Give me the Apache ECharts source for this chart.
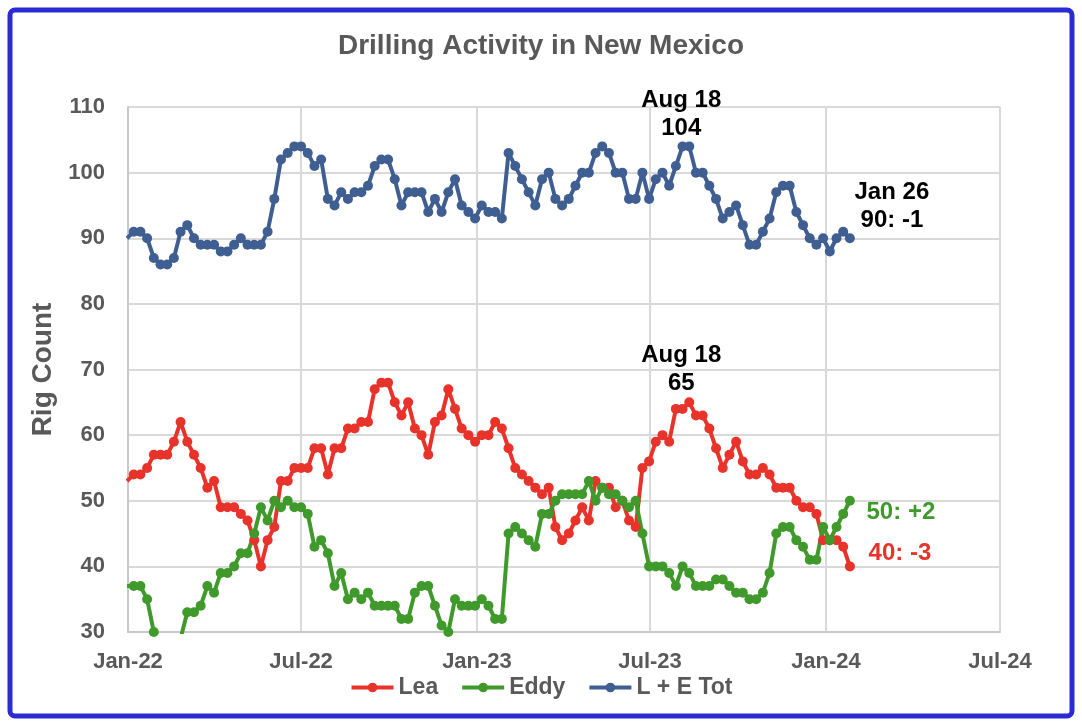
<!DOCTYPE html>
<html>
<head>
<meta charset="utf-8">
<script src="https://cdn.jsdelivr.net/npm/echarts@6/dist/echarts.min.js"></script>
<style>
html,body{margin:0;padding:0;background:#ffffff;}
#chart{width:1082px;height:728px;}
</style>
</head>
<body>
<div id="chart"></div>
<script>
// ---- Data (weekly rig counts) ----
const weeks = [
  '2021-12-31',
  '2022-01-07','2022-01-14','2022-01-21','2022-01-28','2022-02-04','2022-02-11','2022-02-18','2022-02-25',
  '2022-03-04','2022-03-11','2022-03-18','2022-03-25','2022-04-01','2022-04-08','2022-04-15','2022-04-22',
  '2022-04-29','2022-05-06','2022-05-13','2022-05-20','2022-05-27','2022-06-03','2022-06-10','2022-06-17',
  '2022-06-24','2022-07-01','2022-07-08','2022-07-15','2022-07-22','2022-07-29','2022-08-05','2022-08-12',
  '2022-08-19','2022-08-26','2022-09-02','2022-09-09','2022-09-16','2022-09-23','2022-09-30','2022-10-07',
  '2022-10-14','2022-10-21','2022-10-28','2022-11-04','2022-11-11','2022-11-18','2022-11-25','2022-12-02',
  '2022-12-09','2022-12-16','2022-12-23','2022-12-30',
  '2023-01-06','2023-01-13','2023-01-20','2023-01-27','2023-02-03','2023-02-10','2023-02-17','2023-02-24',
  '2023-03-03','2023-03-10','2023-03-17','2023-03-24','2023-03-31','2023-04-07','2023-04-14','2023-04-21',
  '2023-04-28','2023-05-05','2023-05-12','2023-05-19','2023-05-26','2023-06-02','2023-06-09','2023-06-16',
  '2023-06-23','2023-06-30','2023-07-07','2023-07-14','2023-07-21','2023-07-28','2023-08-04','2023-08-11',
  '2023-08-18','2023-08-25','2023-09-01','2023-09-08','2023-09-15','2023-09-22','2023-09-29','2023-10-06',
  '2023-10-13','2023-10-20','2023-10-27','2023-11-03','2023-11-10','2023-11-17','2023-11-24','2023-12-01',
  '2023-12-08','2023-12-15','2023-12-22','2023-12-29',
  '2024-01-05','2024-01-12','2024-01-19','2024-01-26'
];

const lea = [
  53,54,54,55,57,57,57,59,62,59, 57,55,52,53,49,49,49,48,47,44,
  40,44,46,53,53,55,55,55,58,58, 54,58,58,61,61,62,62,67,68,68,
  65,63,65,61,60,57,62,63,67,64, 61,60,59,60,60,62,61,58,55,54,
  53,52,51,52,46,44,45,47,49,47, 53,52,52,49,50,47,46,55,56,59,
  60,59,64,64,65,63,63,61,58,55, 57,59,56,54,54,55,54,52,52,52,
  50,49,49,48,44,44,44,43,40
];

const eddy = [
  37,37,37,35,30,29,29,28,29,33, 33,34,37,36,39,39,40,42,42,45,
  49,47,50,49,50,49,49,48,43,44, 42,37,39,35,36,35,36,34,34,34,
  34,32,32,36,37,37,34,31,30,35, 34,34,34,35,34,32,32,45,46,45,
  44,43,48,48,50,51,51,51,51,53, 50,52,51,51,50,49,50,45,40,40,
  40,39,37,40,39,37,37,37,38,38, 37,36,36,35,35,36,39,45,46,46,
  44,43,41,41,46,44,46,48,50
];

const total = [
  90,91,91,90,87,86,86,87,91,92, 90,89,89,89,88,88,89,90,89,89,
  89,91,96,102,103,104,104,103,101,102, 96,95,97,96,97,97,98,101,102,102,
  99,95,97,97,97,94,96,94,97,99, 95,94,93,95,94,94,93,103,101,99,
  97,95,99,100,96,95,96,98,100,100, 103,104,103,100,100,96,96,100,96,99,
  100,98,101,104,104,100,100,98,96,93, 94,95,92,89,89,91,93,97,98,98,
  94,92,90,89,90,88,90,91,90
];

const seriesNames = ['Lea', 'Eddy', 'L + E Tot'];
const monthNames = ['Jan','Feb','Mar','Apr','May','Jun','Jul','Aug','Sep','Oct','Nov','Dec'];
const xRange = ['2022-01-01', '2024-07-01'];
const yTicks = [30, 110, 10];            // min, max, step
const peakIndex = 84;                    // annotated peak week
const peakText = 'Aug 18';
const lastText = 'Jan 26';

// ---- helpers ----
function ts(s) { const p = s.split('-'); return new Date(+p[0], +p[1] - 1, +p[2]).getTime(); }
const weekTs = weeks.map(ts);
function pairs(vals) { return vals.map((v, i) => [weekTs[i], v]); }
function change(vals) {
  const n = vals.length, d = vals[n - 1] - vals[n - 2];
  return vals[n - 1] + ': ' + (d > 0 ? '+' + d : String(d));
}
const last = weeks.length - 1;
const DAY = 86400000;

const RED = '#E8332A', GREEN = '#3F9A2B', BLUE = '#3F5E91', GRAY = '#595959';
const FONT = 'Liberation Sans, Arial, sans-serif';

const annLabel = (color) => ({
  show: true, color: color, fontFamily: FONT, fontWeight: 'bold', fontSize: 24,
  lineHeight: 28, align: 'center', verticalAlign: 'middle'
});

const chart = echarts.init(document.getElementById('chart'), null, {renderer: 'canvas'});
chart.setOption({
  backgroundColor: '#ffffff',
  animation: false,
  title: {
    text: 'Drilling Activity in New Mexico',
    left: 'center', top: 27,
    textStyle: {fontFamily: FONT, fontWeight: 'bold', fontSize: 28, color: GRAY}
  },
  legend: {
    data: seriesNames,
    left: 'center', top: 671,
    itemWidth: 42, itemHeight: 12, itemGap: 22,
    lineStyle: {width: 4},
    textStyle: {fontFamily: FONT, fontWeight: 'bold', fontSize: 23, color: GRAY}
  },
  grid: {left: 128, right: 82, top: 107, bottom: 96, containLabel: false},
  xAxis: {
    type: 'time',
    min: ts(xRange[0]), max: ts(xRange[1]),
    minInterval: 190 * DAY, maxInterval: 200 * DAY,
    axisLine: {show: true, lineStyle: {color: '#c8c8c8', width: 2}},
    axisTick: {show: false},
    splitLine: {show: true, lineStyle: {color: '#d9d9d9', width: 2}},
    axisLabel: {
      color: GRAY, fontFamily: FONT, fontWeight: 'bold', fontSize: 22, margin: 19,
      showMinLabel: true, showMaxLabel: true, hideOverlap: false,
      formatter: function (v) {
        const d = new Date(v);
        return monthNames[d.getMonth()] + '-' + String(d.getFullYear()).slice(2);
      }
    }
  },
  yAxis: {
    type: 'value', min: yTicks[0], max: yTicks[1], interval: yTicks[2],
    name: 'Rig Count', nameLocation: 'middle', nameGap: 66,
    nameTextStyle: {fontFamily: FONT, fontWeight: 'bold', fontSize: 28, color: GRAY},
    axisLine: {show: true, lineStyle: {color: '#c8c8c8', width: 2}},
    axisTick: {show: false},
    splitLine: {show: true, lineStyle: {color: '#d9d9d9', width: 2}},
    axisLabel: {color: GRAY, fontFamily: FONT, fontWeight: 'bold', fontSize: 22, margin: 23}
  },
  series: [
    {
      name: seriesNames[0], type: 'line', data: pairs(lea),
      symbol: 'circle', symbolSize: 10, clip: true,
      lineStyle: {color: RED, width: 4}, itemStyle: {color: RED},
      markPoint: {
        symbol: 'circle', symbolSize: 0, silent: true,
        data: [
          {coord: [weekTs[peakIndex], lea[peakIndex]], label: Object.assign(annLabel('#000'), {formatter: peakText + '\n' + lea[peakIndex], offset: [-8, -33]})},
          {coord: [weekTs[last], lea[last]], label: Object.assign(annLabel(RED), {formatter: change(lea), offset: [50, -13]})}
        ]
      }
    },
    {
      name: seriesNames[1], type: 'line', data: pairs(eddy),
      symbol: 'circle', symbolSize: 10, clip: true,
      lineStyle: {color: GREEN, width: 4}, itemStyle: {color: GREEN},
      markPoint: {
        symbol: 'circle', symbolSize: 0, silent: true,
        data: [
          {coord: [weekTs[last], eddy[last]], label: Object.assign(annLabel(GREEN), {formatter: change(eddy), offset: [51, 12]})}
        ]
      }
    },
    {
      name: seriesNames[2], type: 'line', data: pairs(total),
      symbol: 'circle', symbolSize: 10, clip: true,
      lineStyle: {color: BLUE, width: 4}, itemStyle: {color: BLUE},
      markPoint: {
        symbol: 'circle', symbolSize: 0, silent: true,
        data: [
          {coord: [weekTs[peakIndex], total[peakIndex]], label: Object.assign(annLabel('#000'), {formatter: peakText + '\n' + total[peakIndex], offset: [-8, -32]})},
          {coord: [weekTs[last], total[last]], label: Object.assign(annLabel('#000'), {formatter: lastText + '\n' + change(total), offset: [42, -32]})}
        ]
      }
    }
  ],
  graphic: [{
    type: 'rect', silent: true, z: 100,
    shape: {x: 10, y: 10, width: 1062, height: 706, r: 5},
    style: {fill: 'none', stroke: '#2B2BD6', lineWidth: 5}
  }]
});
</script>
</body>
</html>
